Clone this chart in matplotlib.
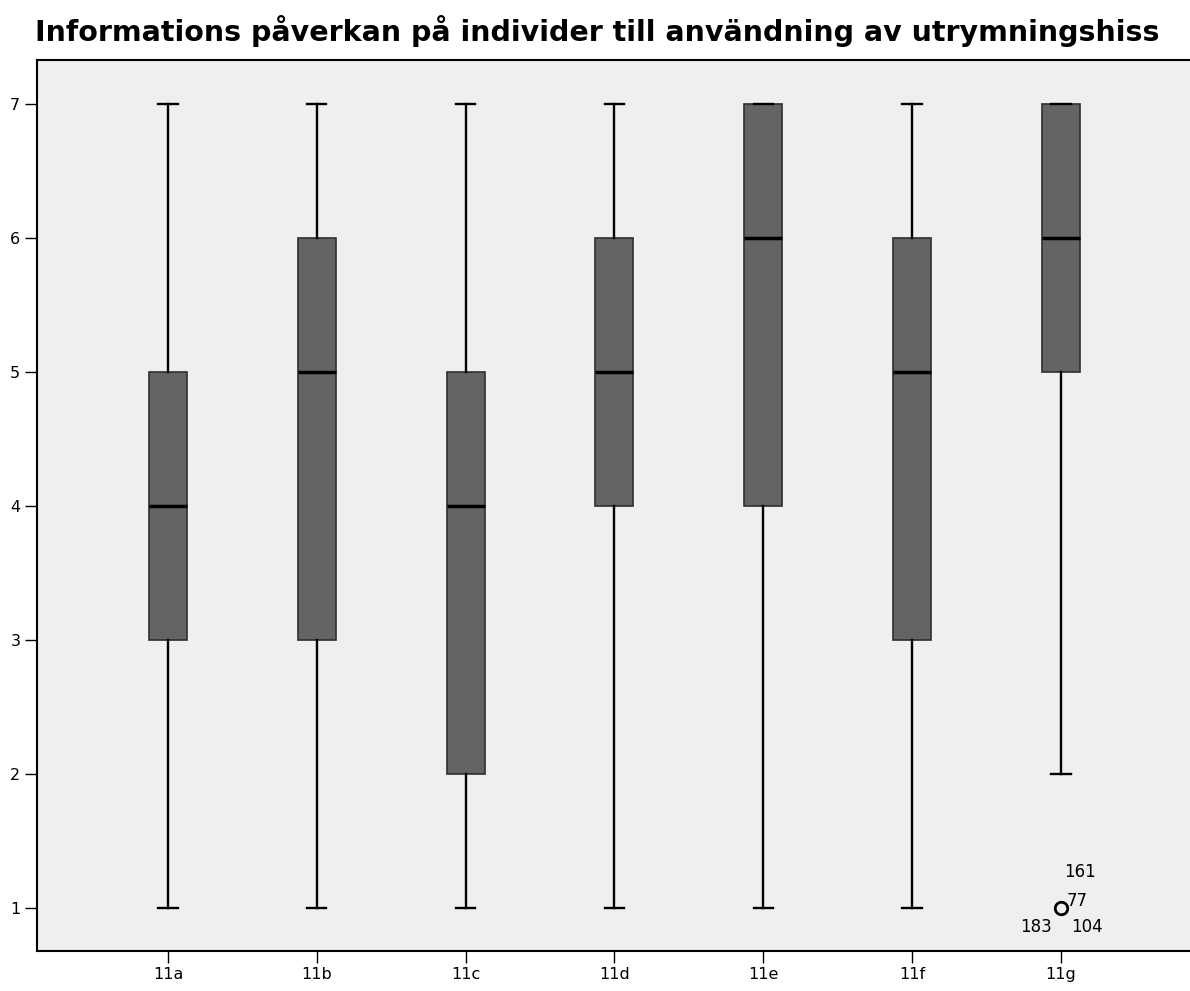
import matplotlib.pyplot as plt

# five-number summaries per question (Likert 1-7)
labels = ['11a', '11b', '11c', '11d', '11e', '11f', '11g']
whislo = [1, 1, 1, 1, 1, 1, 2]
q1 = [3, 3, 2, 4, 4, 3, 5]
med = [4, 5, 4, 5, 6, 5, 6]
q3 = [5, 6, 5, 6, 7, 6, 7]
whishi = [7, 7, 7, 7, 7, 7, 7]
fliers = [[], [], [], [], [], [], [1]]

# case numbers of the outlier in 11g
outlier_ids = ['161', '77', '183', '104']

stats = []
for i in range(len(labels)):
    stats.append({'label': labels[i], 'whislo': whislo[i], 'q1': q1[i], 'med': med[i],
                  'q3': q3[i], 'whishi': whishi[i], 'fliers': fliers[i]})

fig = plt.figure(figsize=(11.9, 9.91), dpi=100)
ax = fig.add_axes([37 / 1190, 40 / 991, 1 - 37 / 1190, 891 / 991])
ax.set_facecolor('#efefef')

pos = list(range(1, len(labels) + 1))
ax.bxp(stats, positions=pos, widths=0.255, capwidths=0.13, patch_artist=True,
       boxprops=dict(facecolor='#646464', edgecolor='#2e2e2e', linewidth=1.2),
       medianprops=dict(color='black', linewidth=2.5),
       whiskerprops=dict(color='black', linewidth=1.7),
       capprops=dict(color='black', linewidth=1.7),
       flierprops=dict(marker='o', markersize=9, markerfacecolor='none',
                       markeredgecolor='black', markeredgewidth=2))

# outlier case labels around the point
g = pos[-1]
fx = fliers[-1][0]
ax.text(g + 0.02, fx + 0.27, outlier_ids[0], fontsize=12, ha='left', va='center')
ax.text(g + 0.04, fx + 0.05, outlier_ids[1], fontsize=12, ha='left', va='center')
ax.text(g - 0.06, fx - 0.14, outlier_ids[2], fontsize=12, ha='right', va='center')
ax.text(g + 0.07, fx - 0.14, outlier_ids[3], fontsize=12, ha='left', va='center')

ax.set_xlim(0.12, 7.867)
ax.set_ylim(0.679, 7.328)
ax.set_yticks(range(1, 8))
ax.set_xticks(pos)
ax.set_xticklabels(labels)
ax.tick_params(axis='both', direction='out', length=8.5, width=1, labelsize=11.5, color='black')
ax.tick_params(axis='x', pad=3)

for s in ['left', 'bottom', 'top']:
    ax.spines[s].set_linewidth(1.5)
ax.spines['right'].set_visible(False)

fig.suptitle('Informations påverkan på individer till användning av utrymningshiss',
             fontsize=20.5, fontweight='bold', x=0.502, y=0.985, va='top')

fig.savefig('out.png', dpi=100)
